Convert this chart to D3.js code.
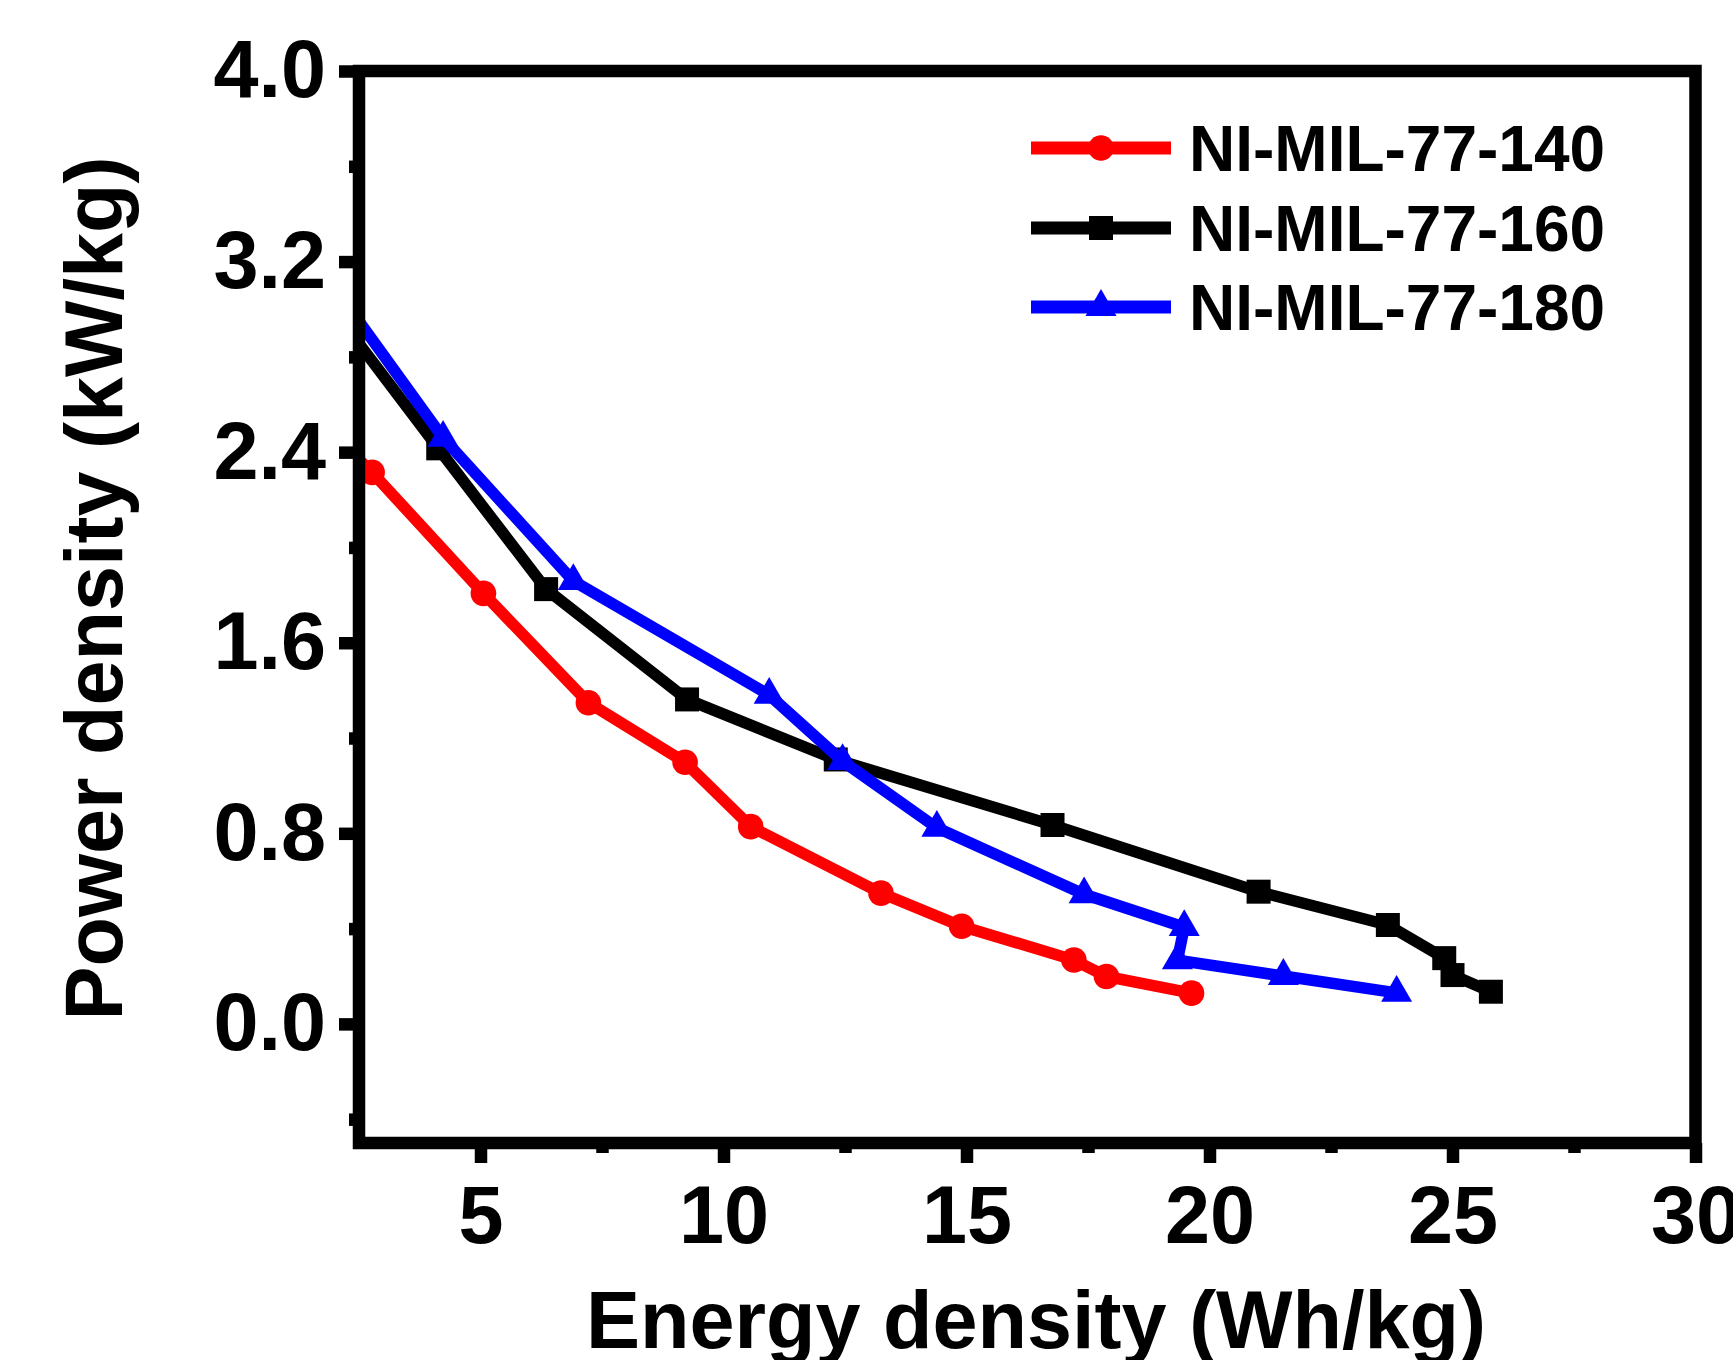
<!DOCTYPE html>
<html>
<head>
<meta charset="utf-8">
<script src="https://cdn.jsdelivr.net/npm/d3@7"></script>
<style>
  html, body { margin: 0; padding: 0; background: #fff; }
  svg { display: block; }
  text { font-family: "Liberation Sans", Arial, sans-serif; font-weight: bold; fill: #000; }
</style>
</head>
<body>
<svg id="chart" width="1733" height="1360"></svg>
<script>
// ---- data (Energy density Wh/kg, Power density kW/kg) ----
const seriesNames = ["NI-MIL-77-140", "NI-MIL-77-160", "NI-MIL-77-180"];
const seriesColors = ["#FF0000", "#000000", "#0000FF"];
const seriesSymbols = ["circle", "square", "triangle"];

// first point of each series lies left of the axis (clipped in the original)
const energy140 = [2.0, 2.77, 5.06, 7.22, 9.21, 10.56, 13.24, 14.90, 17.21, 17.88, 19.63];
const power140  = [2.47, 2.315, 1.807, 1.348, 1.098, 0.828, 0.549, 0.410, 0.268, 0.199, 0.129];

const energy160 = [2.0, 4.13, 6.35, 9.25, 12.31, 16.77, 21.01, 23.67, 24.83, 25.00, 25.79];
const power160  = [2.99, 2.416, 1.825, 1.362, 1.110, 0.835, 0.555, 0.415, 0.276, 0.205, 0.135];

const energy180 = [2.0, 4.23, 6.91, 10.94, 12.45, 14.39, 17.42, 19.48, 19.34, 21.52, 23.85];
const power180  = [3.09, 2.46, 1.859, 1.381, 1.103, 0.823, 0.544, 0.406, 0.267, 0.201, 0.130];

const xMajorTicks = [5, 10, 15, 20, 25, 30];
const xMinorTicks = [7.5, 12.5, 17.5, 22.5, 27.5];
const yMajorTicks = [0.0, 0.8, 1.6, 2.4, 3.2, 4.0];
const yMinorTicks = [-0.4, 0.4, 1.2, 2.0, 2.8, 3.6];

const xLabel = "Energy density (Wh/kg)";
const yLabel = "Power density (kW/kg)";

// ---- layout ----
const L = 359, R = 1695.5, T = 71, B = 1143;
const axisW = 12.5;
const lineW = 11.5;

const svg = d3.select("#chart");
const x = d3.scaleLinear().domain([2.5, 30]).range([L, R]);
const y = d3.scaleLinear().domain([-0.5, 4.0]).range([B, T]);

const series = [
  {name: seriesNames[0], color: seriesColors[0], sym: seriesSymbols[0], xs: energy140, ys: power140},
  {name: seriesNames[1], color: seriesColors[1], sym: seriesSymbols[1], xs: energy160, ys: power160},
  {name: seriesNames[2], color: seriesColors[2], sym: seriesSymbols[2], xs: energy180, ys: power180}
];

svg.append("defs").append("clipPath").attr("id", "plotclip")
  .append("rect").attr("x", L).attr("y", T).attr("width", R - L).attr("height", B - T);

function symbolPath(sym) {
  if (sym === "circle") return d3.symbol().type(d3.symbolCircle).size(Math.PI * 12.8 * 12.8)();
  if (sym === "square") return d3.symbol().type(d3.symbolSquare).size(24 * 24)();
  // equilateral triangle side ~31, centred on centroid
  return d3.symbol().type(d3.symbolTriangle).size(0.433 * 31 * 31)();
}

const plot = svg.append("g").attr("clip-path", "url(#plotclip)");
const line = d3.line().x(d => x(d[0])).y(d => y(d[1]));

series.forEach(s => {
  const pts = s.xs.map((v, i) => [v, s.ys[i]]);
  const g = plot.append("g");
  g.append("path").datum(pts).attr("d", line)
    .attr("fill", "none").attr("stroke", s.color).attr("stroke-width", lineW)
    .attr("stroke-linejoin", "miter").attr("stroke-linecap", "butt");
  g.selectAll("path.m").data(pts).enter().append("path").attr("class", "m")
    .attr("d", symbolPath(s.sym))
    .attr("transform", d => `translate(${x(d[0])},${y(d[1])})`)
    .attr("fill", s.color);
});

// ---- axes ----
function styleAxis(g) {
  g.select(".domain").remove();
  g.selectAll(".tick line").attr("stroke", "#000").attr("stroke-width", axisW);
  g.selectAll(".tick text").attr("font-size", 81).attr("font-family", '"Liberation Sans", Arial, sans-serif')
    .attr("font-weight", "bold").attr("fill", "#000");
}

const fmtY = d3.format(".1f");
svg.append("g").attr("transform", `translate(${L},0)`)
  .call(d3.axisLeft(y).tickValues(yMajorTicks).tickFormat(fmtY).tickSize(20).tickSizeOuter(0).tickPadding(13))
  .call(styleAxis);
svg.append("g").attr("transform", `translate(${L},0)`)
  .call(d3.axisLeft(y).tickValues(yMinorTicks).tickFormat("").tickSize(10).tickSizeOuter(0))
  .call(styleAxis);

svg.append("g").attr("transform", `translate(0,${B})`)
  .call(d3.axisBottom(x).tickValues(xMajorTicks).tickFormat(d3.format("d")).tickSize(20).tickSizeOuter(0).tickPadding(22.5))
  .call(styleAxis);
svg.append("g").attr("transform", `translate(0,${B})`)
  .call(d3.axisBottom(x).tickValues(xMinorTicks).tickFormat("").tickSize(10).tickSizeOuter(0))
  .call(styleAxis);

// frame
svg.append("rect").attr("x", L).attr("y", T).attr("width", R - L).attr("height", B - T)
  .attr("fill", "none").attr("stroke", "#000").attr("stroke-width", axisW)
  .attr("stroke-linejoin", "miter");

// axis titles
svg.append("text").attr("x", 1036).attr("y", 1348).attr("text-anchor", "middle")
  .attr("font-size", 81).text(xLabel);
svg.append("text").attr("transform", "translate(121.7,588.5) rotate(-90)")
  .attr("text-anchor", "middle").attr("font-size", 81).text(yLabel);

// legend
const legY = [148, 228, 307];
series.forEach((s, i) => {
  const g = svg.append("g");
  g.append("line").attr("x1", 1031).attr("x2", 1171).attr("y1", legY[i]).attr("y2", legY[i])
    .attr("stroke", s.color).attr("stroke-width", 13);
  g.append("path").attr("d", symbolPath(s.sym))
    .attr("transform", `translate(1101,${legY[i]})`).attr("fill", s.color);
  g.append("text").attr("x", 1189).attr("y", legY[i] + 22.5).attr("font-size", 64).text(s.name);
});
</script>
</body>
</html>
